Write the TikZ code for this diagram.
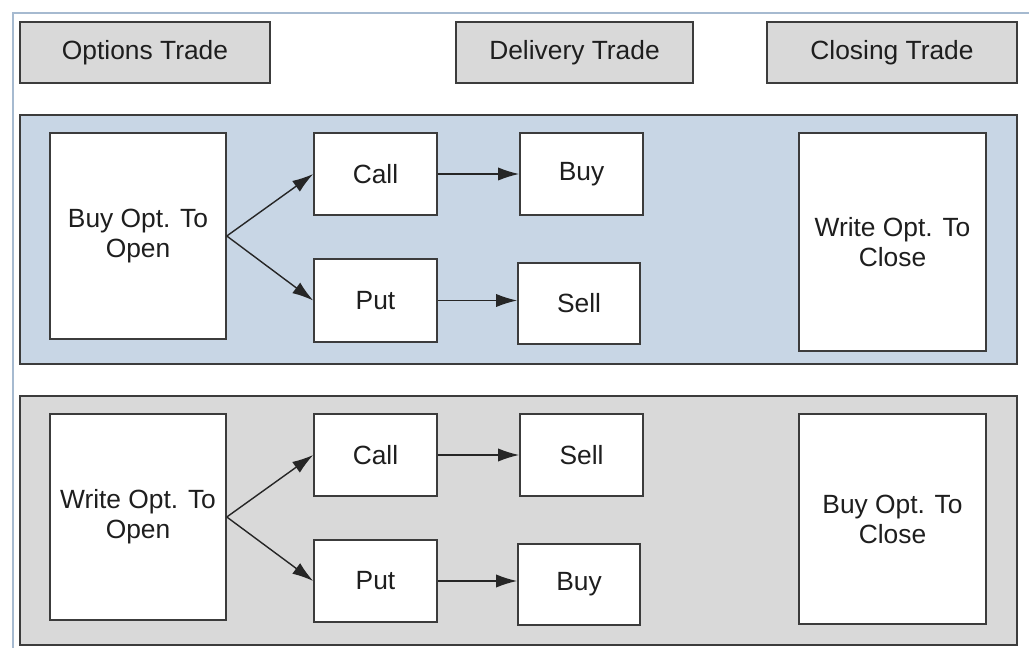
\documentclass[tikz,border=0pt]{standalone}
\usepackage{fontspec}
\setmainfont{Liberation Sans}
\usetikzlibrary{arrows.meta}

\definecolor{panelBlue}{RGB}{200,214,229}
\definecolor{panelGray}{RGB}{217,217,217}
\definecolor{frameBlue}{RGB}{166,186,208}
\definecolor{edgeGray}{RGB}{60,60,60}
\definecolor{textGray}{RGB}{30,30,30}

\tikzset{
	tradeBox/.style={draw=edgeGray, line width=0.9pt, inner sep=0pt, align=center, text=textGray, font=\fontsize{15}{17}\selectfont},
	headBox/.style={tradeBox, fill=panelGray},
	stepBox/.style={tradeBox, fill=white},
	panel/.style={draw=edgeGray, line width=0.9pt},
	flowArrow/.style={-{Latex[length=12pt,width=7.5pt]}, line width=0.8pt, black!85}
}

\begin{document}
\begin{tikzpicture}[x=0.02cm,y=-0.02cm]
	\useasboundingbox (0,0) rectangle (1029,648);
	
	\newcommand\drawBox[7]{\node[#1, minimum width={(#5-#3)*0.02cm}, minimum height={(#6-#4)*0.02cm}] (#2) at ({(#3+#5)/2},{(#4+#6)/2}) {#7};}
	
	% outer frame
	\draw[frameBlue, line width=1.2pt] (13,648) -- (13,13) -- (1029,13);
	
	% column heads
	\drawBox{headBox}{optHead}{20}{22}{270}{83}{Options Trade}
	\drawBox{headBox}{delHead}{456}{22}{693}{83}{Delivery Trade}
	\drawBox{headBox}{closeHead}{767}{22}{1017}{83}{Closing Trade}
	
	% buying options
	\begin{scope}
		\filldraw[panel, fill=panelBlue] (20,115) rectangle (1017,364);
		\drawBox{stepBox}{buyOpen}{50}{133}{226}{339}{Buy Opt. To\\Open}
		\drawBox{stepBox}{callA}{314}{133}{437}{215}{Call}
		\drawBox{stepBox}{putA}{314}{259}{437}{342}{Put}
		\drawBox{stepBox}{buyA}{520}{133}{643}{215}{Buy}
		\drawBox{stepBox}{sellA}{518}{263}{640}{344}{Sell}
		\drawBox{stepBox}{writeClose}{799}{133}{986}{351}{Write Opt. To\\Close}
		
		\draw[flowArrow] (buyOpen.east) -- (callA.west);
		\draw[flowArrow] (buyOpen.east) -- (putA.west);
		\draw[flowArrow] (callA.east) -- (callA.east -| buyA.west);
		\draw[flowArrow] (putA.east) -- (putA.east -| sellA.west);
	\end{scope}
	
	% writing options
	\begin{scope}
		\filldraw[panel, fill=panelGray] (20,396) rectangle (1017,645);
		\drawBox{stepBox}{writeOpen}{50}{414}{226}{620}{Write Opt. To\\Open}
		\drawBox{stepBox}{callB}{314}{414}{437}{496}{Call}
		\drawBox{stepBox}{putB}{314}{540}{437}{622}{Put}
		\drawBox{stepBox}{sellB}{520}{414}{643}{496}{Sell}
		\drawBox{stepBox}{buyB}{518}{544}{640}{625}{Buy}
		\drawBox{stepBox}{buyClose}{799}{414}{986}{624}{Buy Opt. To\\Close}
		
		\draw[flowArrow] (writeOpen.east) -- (callB.west);
		\draw[flowArrow] (writeOpen.east) -- (putB.west);
		\draw[flowArrow] (callB.east) -- (callB.east -| sellB.west);
		\draw[flowArrow] (putB.east) -- (putB.east -| buyB.west);
	\end{scope}
\end{tikzpicture}
\end{document}
